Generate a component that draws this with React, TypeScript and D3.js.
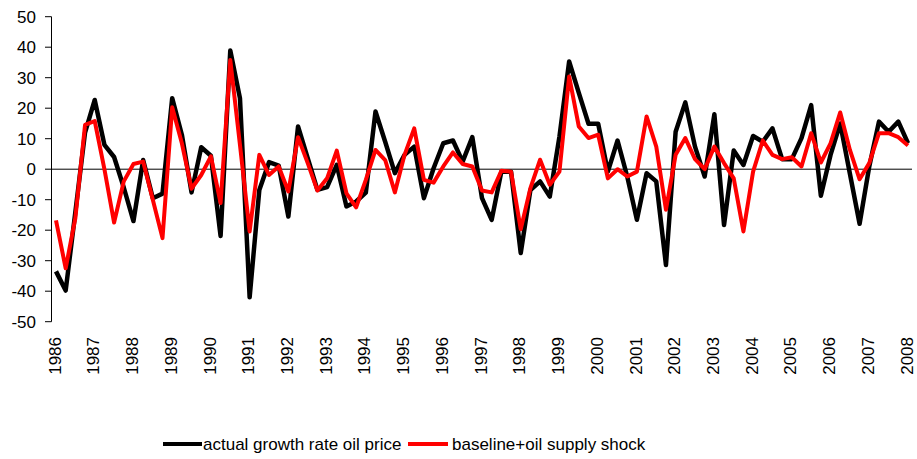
import React from "react";
import * as d3 from "d3";

const years = d3.range(1986, 2009).map(String);
const yTicks = [50, 40, 30, 20, 10, 0, -10, -20, -30, -40, -50];

const actual = [
  -33.5, -39.8, -14, 12, 22.7, 8, 4, -6, -17, 3, -9.5, -8, 23.3, 11.3, -7.6, 7.2,
  4.4, -21.9, 38.9, 23.3, -42, -6.8, 2.3, 1.2, -15.5, 14, 3.6, -6.8, -5.9, 1.4, -12.2, -10.6,
  -7.7, 18.9, 9, -1.3, 4.7, 7.4, -9.5, 0.3, 8.5, 9.4, 2.5, 10.5, -9.5, -16.6, -0.8, -0.8,
  -27.5, -6.8, -4, -9, 10.7, 35.3, 25, 14.9, 14.9, -0.8, 9.4, -2.4, -16.6, -1.3, -4, -31.4,
  12.3, 21.9, 7.4, -2.4, 18, -18.3, 6.1, 1.4, 10.9, 9, 13.4, 3.3, 3.3, 10.2, 21, -8.7,
  4.7, 15, -1.5, -17.9, 0.9, 15.6, 12.3, 15.6, 8.5,
];

const shock = [
  -16.8, -32.5, -16, 14.5, 15.8, 0, -17.5, -4, 1.7, 2.5, -10, -22.6, 20.3, 8.5, -6.4, -1.9,
  4.2, -11.1, 35.8, 8, -20.4, 4.7, -1.9, 0.9, -7.3, 10.5, 2, -7, -3, 6.1, -7.9, -12.5,
  -3.5, 6.3, 3, -7.6, 4.7, 13.4, -3.5, -4.4, 0.9, 5.5, 1.7, 0.9, -7, -7.6, -0.5, -0.8,
  -19.7, -6.2, 3.1, -5.1, -0.8, 30.4, 14, 10.2, 11.3, -3, 0, -2.4, -0.8, 17.3, 7.4, -13.3,
  4.7, 10.2, 3.3, 0, 7.4, 2, -3, -20.4, -0.8, 9.4, 4.7, 3.3, 3.9, 0.9, 11.8, 2.2,
  8.5, 18.6, 6.3, -3.3, 2, 11.8, 11.8, 10.5, 7.8,
];

const seriesNames = ["actual growth rate oil price", "baseline+oil supply shock"];

export default function App() {
  const W = 917;
  const H = 459;
  const x = d3.scaleLinear().domain([1986, 2008]).range([56, 908]);
  const y = d3.scaleLinear().domain([-50, 50]).range([321.7, 16.7]);
  const font = "'Liberation Sans', Arial, sans-serif";

  const line = d3
    .line<number>()
    .x((_, i) => x(1986 + i / 4))
    .y((d) => y(d));

  return (
    <svg
      width={W}
      height={H}
      style={{ position: "absolute", left: 0, top: 0, background: "#fff" }}
      fontFamily={font}
    >
      {/* y axis */}
      <line x1={51.5} x2={51.5} y1={y(50)} y2={y(-50)} stroke="#000" strokeWidth={1} />
      {yTicks.map((t) => (
        <g key={t}>
          <line x1={45} x2={51.5} y1={y(t)} y2={y(t)} stroke="#000" strokeWidth={1} />
          <text x={36} y={y(t)} dy="0.36em" textAnchor="end" fontSize={17} fill="#000">
            {t}
          </text>
        </g>
      ))}
      {/* zero line */}
      <line x1={51.5} x2={912} y1={y(0)} y2={y(0)} stroke="#000" strokeWidth={1} />

      {/* x labels */}
      {years.map((yr) => {
        const px = x(+yr) - 1.5;
        return (
          <text
            key={yr}
            transform={`translate(${px},337) rotate(-90)`}
            textAnchor="end"
            dy="0.36em"
            fontSize={17}
            fill="#000"
          >
            {yr}
          </text>
        );
      })}

      {/* series */}
      <path d={line(actual) || ""} fill="none" stroke="#000" strokeWidth={4.5} strokeLinejoin="round" />
      <path d={line(shock) || ""} fill="none" stroke="#ff0000" strokeWidth={4} strokeLinejoin="round" />

      {/* legend */}
      <line x1={163} x2={202} y1={444} y2={444} stroke="#000" strokeWidth={4} />
      <text x={203} y={449.5} fontSize={17} fill="#000">
        {seriesNames[0]}
      </text>
      <line x1={408} x2={448} y1={444} y2={444} stroke="#ff0000" strokeWidth={4} />
      <text x={452} y={449.5} fontSize={17} fill="#000">
        {seriesNames[1]}
      </text>
    </svg>
  );
}
